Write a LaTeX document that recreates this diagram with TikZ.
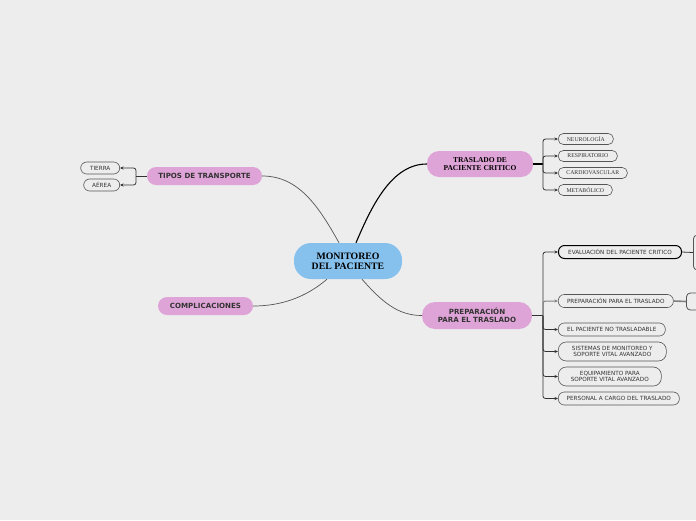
\documentclass[tikz,border=0pt]{standalone}
\usepackage{fontspec}
\setmainfont{Liberation Serif}
\newfontfamily\sansf{DejaVu Sans}
\usetikzlibrary{arrows.meta}
\definecolor{bg}{HTML}{EDEDED}
\definecolor{mainblue}{HTML}{86C1EE}
\definecolor{subpink}{HTML}{DFA4D7}
\definecolor{linec}{HTML}{555555}
\definecolor{txt}{HTML}{333333}
\tikzset{
  mainnode/.style={fill=mainblue, rounded corners=17pt, minimum width=108pt, minimum height=36pt, inner sep=0pt, align=center, font=\fontsize{9.8}{9.6}\selectfont\bfseries, text=black},
  subserif/.style={fill=subpink, rounded corners=12pt, inner sep=0pt, align=center, font=\fontsize{7.5}{7.3}\selectfont\bfseries, text=black},
  subsans/.style={fill=subpink, rounded corners=9pt, inner sep=0pt, align=center, font=\sansf\fontsize{7.1}{8.3}\selectfont\bfseries, text=txt},
  leafserif/.style={draw=linec, line width=0.6pt, fill=bg, rounded corners=5pt, minimum height=11pt, inner sep=0pt, align=center, font=\fontsize{5.8}{5.8}\selectfont, text=txt},
  leafsans/.style={draw=linec, line width=0.6pt, fill=bg, rounded corners=6pt, minimum height=13pt, inner sep=0pt, align=center, font=\sansf\fontsize{5.7}{6.6}\selectfont, text=txt},
  branch/.style={draw=linec, line width=0.7pt},
  bracket/.style={draw=txt, line width=0.8pt, rounded corners=2.5pt},
  arr/.style={bracket, -{Stealth[length=3.5pt,width=3pt]}},
}
\begin{document}
\begin{tikzpicture}[x=1pt,y=-1pt]
\fill[bg] (0,0) rectangle (696,520);
\useasboundingbox (0,0) rectangle (696,520);
\clip (0,0) rectangle (696,520);

% central
\node[mainnode] (c) at (348,261) {MONITOREO\\DEL PACIENTE};

% main branches
\node[subserif, minimum width=106pt, minimum height=26pt] (t) at (480,164) {TRASLADO DE\\PACIENTE CRITICO};
\node[subsans, minimum width=115pt, minimum height=18pt] (tp) at (204.5,176) {TIPOS DE TRANSPORTE};
\node[subsans, minimum width=95pt, minimum height=18pt] (co) at (205.5,306) {COMPLICACIONES};
\node[subsans, minimum width=110pt, minimum height=27pt, rounded corners=13pt] (p) at (477,315.5) {PREPARACIÓN\\PARA EL TRASLADO};

\draw[draw=black, line width=1.1pt] ([xshift=8pt]c.north) .. controls (372,205) and (392,164) .. (t.west);
\draw[branch] ([xshift=-9pt]c.north) .. controls (318,205) and (298,176) .. (tp.east);
\draw[branch] ([xshift=-21pt]c.south) .. controls (305,298) and (280,306) .. (co.east);
\draw[branch] ([xshift=14pt]c.south) .. controls (382,302) and (398,315.5) .. (p.west);

% TRASLADO leaves
\node[leafserif, minimum width=55pt, anchor=west] (n1) at (558,139) {NEUROLOGÍA};
\node[leafserif, minimum width=59pt, anchor=west] (n2) at (558,156) {RESPIRATORIO};
\node[leafserif, minimum width=69pt, anchor=west] (n3) at (558,173) {CARDIOVASCULAR};
\node[leafserif, minimum width=54pt, anchor=west] (n4) at (558,190) {METABÓLICO};
\draw[draw=black, line width=1.3pt] (t.east) -- (543,164) coordinate (tb);
\foreach \n in {n1,n2,n3,n4} \draw[arr] (tb) |- (\n.west);

% TIPOS leaves
\node[leafsans, minimum width=39pt, minimum height=12pt, anchor=east] (l1) at (120,168) {TIERRA};
\node[leafsans, minimum width=36pt, minimum height=12pt, anchor=east] (l2) at (120,185) {AÉREA};
\draw[bracket, line width=1pt] (tp.west) -- (136,176) coordinate (tpb);
\foreach \n in {l1,l2} \draw[arr] (tpb) |- (\n.east);

% PREPARACION leaves
\node[leafsans, draw=black, line width=1pt, minimum width=123pt, anchor=west] (e1) at (558,252) {EVALUACIÓN DEL PACIENTE CRITICO};
\node[leafsans, minimum width=115pt, anchor=west] (e2) at (558,301) {PREPARACIÓN PARA EL TRASLADO};
\node[leafsans, minimum width=107pt, anchor=west] (e3) at (558,329.5) {EL PACIENTE NO TRASLADABLE};
\node[leafsans, minimum width=108pt, minimum height=19pt, rounded corners=8pt, anchor=west] (e4) at (558,351.5) {SISTEMAS DE MONITOREO Y\\SOPORTE VITAL AVANZADO};
\node[leafsans, minimum width=103pt, minimum height=19pt, rounded corners=8pt, anchor=west] (e5) at (558,376.5) {EQUIPAMIENTO PARA\\SOPORTE VITAL AVANZADO};
\node[leafsans, minimum width=121pt, anchor=west] (e6) at (558,398.5) {PERSONAL A CARGO DEL TRASLADO};
\draw[bracket, line width=1pt] (p.east) -- (543,315.5) coordinate (pb);
\foreach \n in {e1,e3,e4,e5,e6} \draw[arr] (pb) |- (\n.west);
\draw[arr, draw=gray, line width=1pt] (pb) |- (e2.west);

% partial boxes at right edge
\node[draw=linec, line width=0.8pt, fill=bg, rounded corners=4pt, minimum width=40pt, minimum height=35pt, anchor=west] (x1) at (693,252.5) {};
\node[draw=linec, line width=0.8pt, fill=bg, rounded corners=4pt, minimum width=40pt, minimum height=17pt, anchor=west] (x2) at (686,301.5) {};
\draw[draw=txt, line width=0.8pt] (e1.east) -- (x1.west);
\draw[draw=gray, line width=1.6pt] (e2.east) -- (x2.west);
\end{tikzpicture}
\end{document}
